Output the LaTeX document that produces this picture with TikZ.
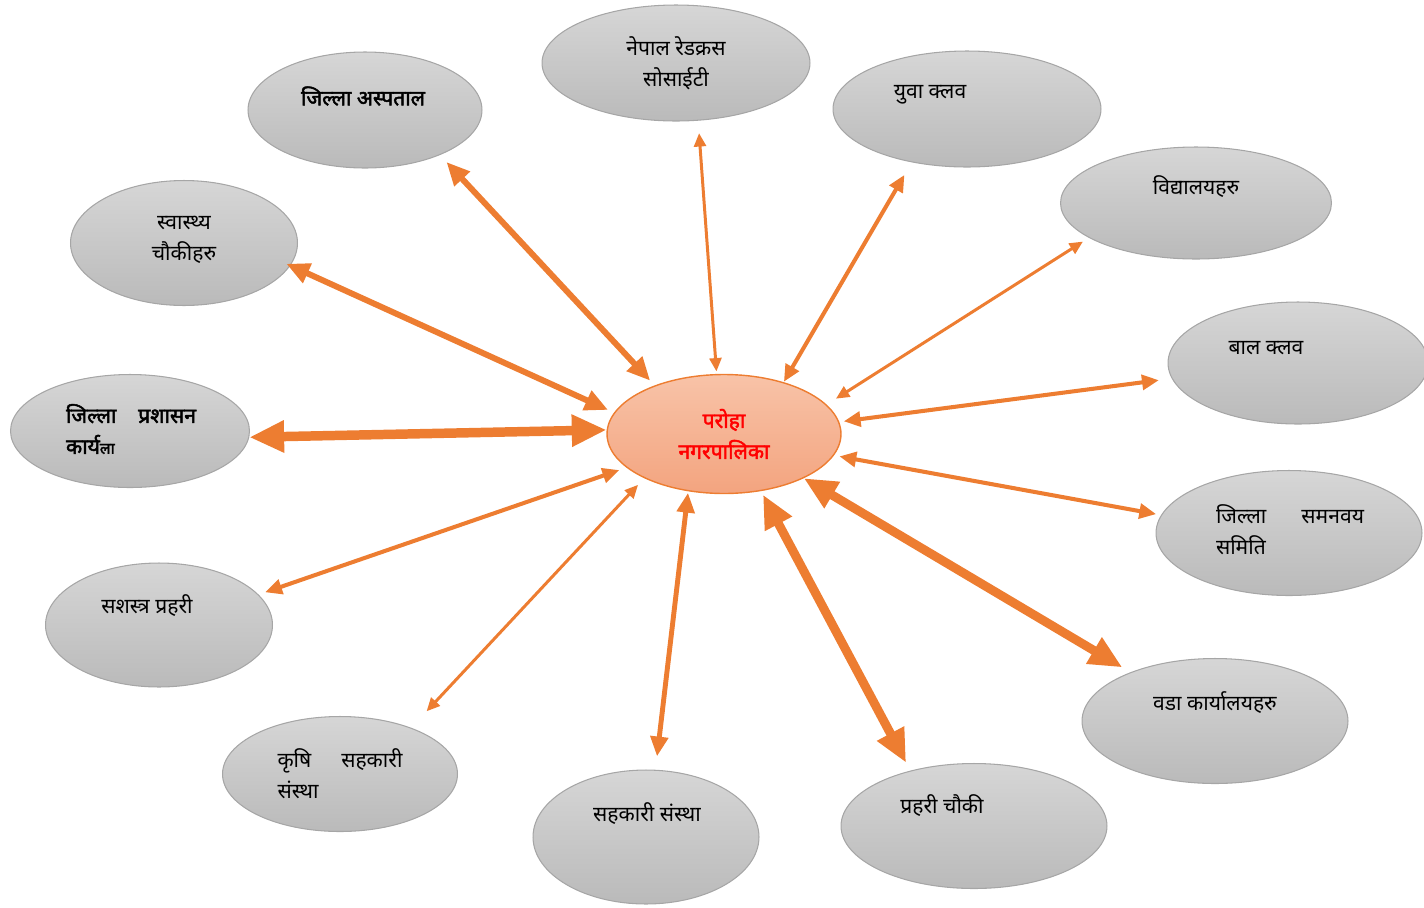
\documentclass[tikz,border=0pt]{standalone}
\usepackage{fontspec}
\newfontfamily\deva[Script=Devanagari]{Noto Sans}
\newfontfamily\devabold[Script=Devanagari, FakeBold=2.2]{Noto Sans}
\usetikzlibrary{shapes.geometric,arrows.meta}
\definecolor{arrorange}{HTML}{ED7D31}
\definecolor{rimgray}{HTML}{A6A6A6}
\definecolor{topgray}{HTML}{D6D6D6}
\definecolor{botgray}{HTML}{BABABA}
\definecolor{toppeach}{HTML}{F8C3A8}
\definecolor{botpeach}{HTML}{F3A47F}
\begin{document}
\begin{tikzpicture}[x=0.02cm, y=-0.02cm,
    blob/.style={ellipse, draw=rimgray, line width=0.6pt,
        top color=topgray, bottom color=botgray, inner sep=0pt},
    hub/.style={ellipse, draw=arrorange, line width=0.8pt,
        top color=toppeach, bottom color=botpeach, inner sep=0pt},
    lbl/.style={font={\deva\fontsize{12}{17.6}\selectfont}, align=center, inner sep=0pt},
    boldlbl/.style={lbl, font={\devabold\fontsize{12}{17.6}\selectfont}},
    link/.style={arrorange, line width=#1,
        {Triangle[length=2pt 3.3, width=2pt 2.8]}-{Triangle[length=2pt 3.3, width=2pt 2.8]}}]
    \useasboundingbox (0,0) rectangle (1424,907);
    % outer bubbles
    \node[blob, minimum width=4.68cm, minimum height=2.32cm] (hosp) at (365,110) {};
    \node[blob, minimum width=5.36cm, minimum height=2.32cm] (redx) at (676,63) {};
    \node[blob, minimum width=5.36cm, minimum height=2.32cm] (yuva) at (967,109) {};
    \node[blob, minimum width=5.42cm, minimum height=2.24cm] (school) at (1196,203) {};
    \node[blob, minimum width=5.20cm, minimum height=2.44cm] (bal) at (1298,363) {};
    \node[blob, minimum width=5.32cm, minimum height=2.50cm] (saman) at (1289,533) {};
    \node[blob, minimum width=5.32cm, minimum height=2.50cm] (wada) at (1215,721) {};
    \node[blob, minimum width=5.32cm, minimum height=2.50cm] (chauki) at (974,826) {};
    \node[blob, minimum width=4.52cm, minimum height=2.68cm] (sahakari) at (646,837) {};
    \node[blob, minimum width=4.70cm, minimum height=2.30cm] (krishi) at (340,774) {};
    \node[blob, minimum width=4.54cm, minimum height=2.48cm] (sashastra) at (159,625) {};
    \node[blob, minimum width=4.78cm, minimum height=2.26cm] (prashasan) at (130,431) {};
    \node[blob, minimum width=4.54cm, minimum height=2.50cm] (swasthya) at (184,243) {};
    % centre
    \node[hub, minimum width=4.68cm, minimum height=2.38cm] (paroha) at (724,434) {};

    % texts
    \node[boldlbl] (hospt) at (363,96) {जिल्ला अस्पताल};
    \node[lbl] (redxt) at (676,63) {नेपाल रेडक्रस\\सोसाईटी};
    \node[lbl] (yuvat) at (930,95) {युवा क्लव};
    \node[lbl] (schoolt) at (1196,187) {विद्यालयहरु};
    \node[lbl] (balt) at (1266,348) {बाल क्लव};
    \node[lbl, align=left] (samant) at (1290,530) {\makebox[2.96cm][l]{जिल्ला\hfill समनवय}\\समिति};
    \node[lbl] (wadat) at (1215,703) {वडा कार्यालयहरु};
    \node[lbl] (chaukit) at (942,806) {प्रहरी चौकी};
    \node[lbl] (sahakarit) at (647,814) {सहकारी संस्था};
    \node[lbl, align=left] (krishit) at (340,774) {\makebox[2.5cm][l]{कृषि\hfill सहकारी}\\संस्था};
    \node[lbl] (sashastrat) at (147,606) {सशस्त्र प्रहरी};
    \node[boldlbl, align=left] (prashasant) at (131,429)
        {\makebox[2.6cm][l]{जिल्ला\hfill प्रशासन}\\कार्य{\fontsize{9}{10}\selectfont ला}};
    \node[lbl] (swasthyat) at (184,240) {स्वास्थ्य\\चौकीहरु};
    \node[boldlbl, text=red] (parohat) at (724,434) {परोहा\\नगरपालिका};

    % links to the centre
    \draw[link=3.4pt, shorten <=0.19cm, shorten >=0.13cm] (hosp.-31) -- (paroha.145);
    \draw[link=1.7pt, shorten <=0.25cm, shorten >=0.05cm] (redx.-69) -- (paroha.97);
    \draw[link=2.3pt, shorten <=0.29cm, shorten >=0.01cm] (yuva.-136) -- (paroha.41);
    \draw[link=1.7pt, shorten <=0.14cm, shorten >=0.22cm] (school.-162) -- (paroha.16);
    \draw[link=2.3pt, shorten <=0.26cm, shorten >=0.09cm] (bal.-173) -- (paroha.6);
    \draw[link=2.3pt, shorten <=0.10cm, shorten >=0.11cm] (saman.172) -- (paroha.-11);
    \draw[link=5.1pt, shorten <=0.19cm] (wada.150) -- (paroha.-29);
    \draw[link=5.1pt, shorten <=0.18cm, shorten >=0.08cm] (chauki.139) -- (paroha.-57);
    \draw[link=2.8pt, shorten <=0.27cm, shorten >=0.03cm] (sahakari.82) -- (paroha.-122);
    \draw[link=1.7pt, shorten <=0.45cm, shorten >=0.18cm] (krishi.33) -- (paroha.-151);
    \draw[link=2.3pt, shorten <=0.14cm, shorten >=0.15cm] (sashastra.17) -- (paroha.-161);
    \draw[link=5.4pt] (prashasan.-3) -- (paroha.178);
    \draw[link=3.4pt, shorten <=-0.09cm, shorten >=0.13cm] (swasthya.-12) -- (paroha.169);
\end{tikzpicture}
\end{document}
